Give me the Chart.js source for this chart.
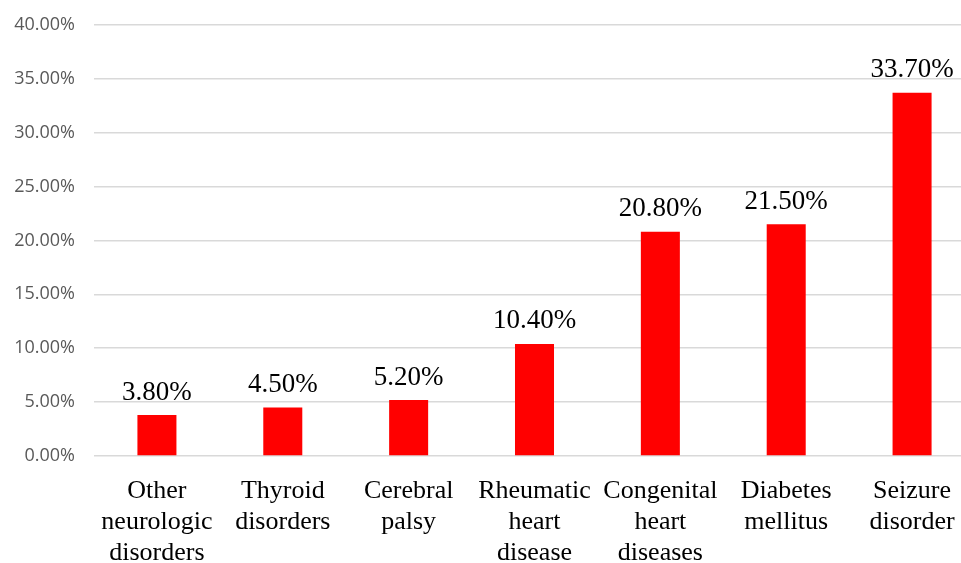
<!DOCTYPE html>
<html><head><meta charset="utf-8">
<script src="https://cdn.jsdelivr.net/npm/chart.js@4/dist/chart.umd.min.js"></script>
<style>html,body{margin:0;padding:0;background:#fff;overflow:hidden;}#wrap{width:975px;height:568px;margin-top:-5px;}</style>
</head><body><div id="wrap"><canvas id="c" width="975" height="568"></canvas></div>
<script>
const categories = [["Other","neurologic","disorders"],["Thyroid","disorders"],["Cerebral","palsy"],["Rheumatic","heart","disease"],["Congenital","heart","diseases"],["Diabetes","mellitus"],["Seizure","disorder"]];
const values = [3.8, 4.5, 5.2, 10.4, 20.8, 21.5, 33.7];
const yTicks = [0,5,10,15,20,25,30,35,40];

const labelPlugin = {
  id:'barLabels',
  afterDatasetsDraw(chart){
    const ctx = chart.ctx;
    const meta = chart.getDatasetMeta(0);
    ctx.save();
    ctx.font = '27px "Liberation Serif", "Times New Roman", serif';
    ctx.fillStyle = '#000';
    ctx.textAlign = 'center';
    ctx.textBaseline = 'bottom';
    meta.data.forEach((bar,i)=>{
      ctx.fillText(values[i].toFixed(2)+'%', bar.x, bar.y - 9);
    });
    ctx.restore();
  }
};

new Chart(document.getElementById('c'), {
  type:'bar',
  data:{labels:categories, datasets:[{data:values, backgroundColor:'#ff0000', borderWidth:0, barPercentage:0.31, categoryPercentage:1}]},
  options:{
    responsive:false, animation:false,
    layout:{padding:{top:9,left:0,right:0,bottom:0}},
    plugins:{legend:{display:false}, tooltip:{enabled:false}},
    scales:{
      x:{
        grid:{display:false, drawTicks:false},
        border:{display:false},
        ticks:{color:'#000', maxRotation:0, autoSkip:false, padding:19,
          font:{family:'"Liberation Serif", "Times New Roman", serif', size:26, lineHeight:1.21}},
        afterFit(s){ s.height = 107; }
      },
      y:{
        min:0, max:40,
        afterBuildTicks(s){ s.ticks = yTicks.map(v=>({value:v})); },
        grid:{color:'#d9d9d9', lineWidth:1.5, drawTicks:false},
        border:{display:false},
        ticks:{color:'#595959', padding:19, callback:v=>v.toFixed(2)+'%',
          font:{family:'"Open Sans", sans-serif', size:18}},
        afterFit(s){ s.width = 94; }
      }
    }
  },
  plugins:[labelPlugin]
});
</script></body></html>
